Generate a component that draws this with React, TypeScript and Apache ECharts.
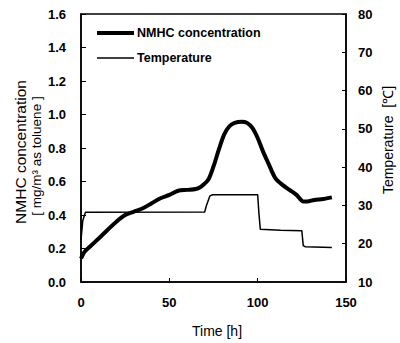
import React, { useEffect, useRef } from "react";
import * as echarts from "echarts";

const nmhcTime = [0, 2, 5, 10, 15, 20, 25, 30, 35, 40, 45, 50, 55, 60, 65, 68, 72, 75, 78, 81, 84, 87, 91, 94, 97, 100, 103, 106, 110, 114, 118, 122, 126, 128, 132, 137, 142];
const nmhcValue = [0.14, 0.18, 0.21, 0.26, 0.31, 0.36, 0.4, 0.42, 0.44, 0.47, 0.5, 0.52, 0.545, 0.55, 0.555, 0.57, 0.61, 0.69, 0.79, 0.88, 0.93, 0.95, 0.957, 0.95, 0.92, 0.86, 0.78, 0.71, 0.62, 0.58, 0.55, 0.52, 0.48, 0.48, 0.49, 0.495, 0.505];

const tempTime = [0, 1, 2.5, 70, 71, 73, 74.5, 100, 100.7, 101.5, 113, 125, 125.8, 127, 142];
const tempValue = [21, 26, 28.2, 28.3, 30, 32.5, 32.8, 32.8, 28, 23.8, 23.5, 23.4, 19.5, 19.2, 19.0];

const seriesNames = ["NMHC concentration", "Temperature"];
const xTicks = [0, 150, 50];
const leftTicks = [0, 1.6, 0.2];
const rightTicks = [10, 80, 10];

const FONT = "Liberation Sans";

export default function App() {
  const ref = useRef<HTMLDivElement>(null);
  useEffect(() => {
    if (!ref.current) return;
    const chart = echarts.init(ref.current, null, { renderer: "svg" });
    const nmhc = nmhcTime.map((t, i) => [t, nmhcValue[i]]);
    const temp = tempTime.map((t, i) => [t, tempValue[i]]);
    const labelStyle = { color: "#000", fontFamily: FONT, fontWeight: "bold" as const, fontSize: 13 };
    chart.setOption({
      animation: false,
      backgroundColor: "#fff",
      grid: { left: 81, right: 54, top: 14, bottom: 61, show: true, borderColor: "#000", borderWidth: 1.5 },
      xAxis: {
        type: "value",
        min: xTicks[0],
        max: xTicks[1],
        interval: xTicks[2],
        axisLine: { lineStyle: { color: "#000", width: 1.5 } },
        axisTick: { inside: true, length: 4, lineStyle: { color: "#000" } },
        splitLine: { show: false },
        axisLabel: { ...labelStyle, margin: 14 },
      },
      yAxis: [
        {
          type: "value",
          min: leftTicks[0],
          max: leftTicks[1],
          interval: leftTicks[2],
          axisLine: { show: true, lineStyle: { color: "#000", width: 1.5 } },
          axisTick: { show: true, inside: true, length: 5, lineStyle: { color: "#000" } },
          splitLine: { show: false },
          axisLabel: { ...labelStyle, margin: 15, formatter: (v: number) => v.toFixed(1) },
        },
        {
          type: "value",
          position: "right",
          min: rightTicks[0],
          max: rightTicks[1],
          interval: rightTicks[2],
          axisLine: { show: true, lineStyle: { color: "#000", width: 1.5 } },
          axisTick: { show: true, inside: true, length: 4, lineStyle: { color: "#000" } },
          splitLine: { show: false },
          axisLabel: { ...labelStyle, margin: 12 },
        },
      ],
      series: [
        {
          name: seriesNames[0],
          type: "line",
          yAxisIndex: 0,
          data: nmhc,
          smooth: 0.3,
          symbol: "none",
          lineStyle: { color: "#000", width: 4 },
          itemStyle: { color: "#000" },
        },
        {
          name: seriesNames[1],
          type: "line",
          yAxisIndex: 1,
          data: temp,
          symbol: "none",
          lineStyle: { color: "#000", width: 1.5 },
          itemStyle: { color: "#000" },
        },
      ],
      graphic: [
        { type: "line", shape: { x1: 97, y1: 33, x2: 134, y2: 33 }, style: { stroke: "#000", lineWidth: 4 } },
        {
          type: "text",
          x: 137,
          y: 33,
          style: { text: seriesNames[0], fill: "#000", font: `bold 12.5px ${FONT}`, align: "left", verticalAlign: "middle" },
        },
        { type: "line", shape: { x1: 97, y1: 58, x2: 134, y2: 58 }, style: { stroke: "#000", lineWidth: 1.5 } },
        {
          type: "text",
          x: 137,
          y: 58,
          style: { text: seriesNames[1], fill: "#000", font: `bold 12.5px ${FONT}`, align: "left", verticalAlign: "middle" },
        },
        {
          type: "text",
          x: 20,
          y: 152,
          rotation: Math.PI / 2,
          style: { text: "NMHC concentration", fill: "#000", font: `15.5px ${FONT}`, align: "center", verticalAlign: "middle" },
        },
        {
          type: "text",
          x: 36,
          y: 156,
          rotation: Math.PI / 2,
          style: { text: "[ mg/m³ as toluene ]", fill: "#000", font: `13.5px ${FONT}`, align: "center", verticalAlign: "middle" },
        },
        {
          type: "text",
          x: 388,
          y: 140,
          rotation: Math.PI / 2,
          style: { text: "Temperature  [℃]", fill: "#000", font: `14px ${FONT}`, align: "center", verticalAlign: "middle" },
        },
        {
          type: "text",
          x: 217,
          y: 331,
          style: { text: "Time [h]", fill: "#000", font: `14px ${FONT}`, align: "center", verticalAlign: "middle" },
        },
      ],
    });
    return () => chart.dispose();
  }, []);
  return <div ref={ref} style={{ position: "fixed", left: 0, top: 0, width: 400, height: 343 }} />;
}
